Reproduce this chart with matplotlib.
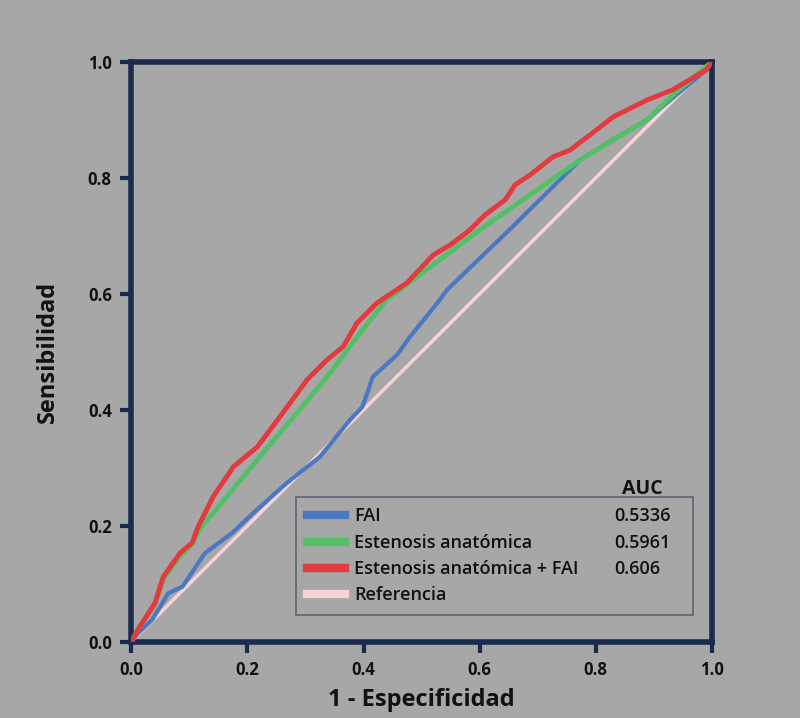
import matplotlib
matplotlib.use("Agg")
import matplotlib.pyplot as plt

plt.rcParams['font.family'] = ['Open Sans', 'DejaVu Sans']

# ROC curve data (1 - especificidad, sensibilidad)
fai_x = [0.0, 0.012, 0.036, 0.064, 0.088, 0.127, 0.174, 0.21, 0.268, 0.325, 0.377, 0.398, 0.416,
         0.458, 0.48, 0.527, 0.544, 0.657, 0.773, 0.83, 0.888, 0.922, 0.99, 1.0]
fai_y = [0.0, 0.015, 0.038, 0.084, 0.095, 0.153, 0.188, 0.222, 0.274, 0.319, 0.383, 0.405, 0.457,
         0.495, 0.526, 0.584, 0.607, 0.716, 0.831, 0.866, 0.90, 0.929, 0.986, 1.0]

est_x = [0.0, 0.012, 0.041, 0.055, 0.084, 0.105, 0.119, 0.17, 0.227, 0.286, 0.343, 0.389, 0.44,
         0.6, 0.773, 0.888, 0.933, 1.0]
est_y = [0.0, 0.022, 0.065, 0.108, 0.148, 0.168, 0.196, 0.257, 0.326, 0.395, 0.464, 0.526, 0.59,
         0.71, 0.831, 0.90, 0.943, 1.0]

comb_x = [0.0, 0.012, 0.041, 0.055, 0.084, 0.105, 0.115, 0.141, 0.176, 0.217, 0.256, 0.303,
          0.337, 0.365, 0.389, 0.423, 0.475, 0.52, 0.549, 0.583, 0.609, 0.644, 0.661, 0.687,
          0.726, 0.756, 0.79, 0.83, 0.888, 0.933, 0.99, 1.0]
comb_y = [0.0, 0.022, 0.067, 0.112, 0.153, 0.171, 0.198, 0.25, 0.302, 0.336, 0.388, 0.452,
          0.486, 0.509, 0.55, 0.584, 0.619, 0.667, 0.684, 0.71, 0.736, 0.762, 0.788, 0.805,
          0.836, 0.848, 0.874, 0.905, 0.934, 0.952, 0.986, 1.0]

ref_x = [0.0, 1.0]
ref_y = [0.0, 1.0]

labels = ["FAI", "Estenosis anatómica", "Estenosis anatómica + FAI", "Referencia"]
auc_values = ["0.5336", "0.5961", "0.606", ""]
colors = ["#4a78c2", "#52c064", "#e23a3e", "#f7d3d6"]
ticks = [0.0, 0.2, 0.4, 0.6, 0.8, 1.0]
tick_labels = ["0.0", "0.2", "0.4", "0.6", "0.8", "1.0"]

bg = "#a7a7a7"
navy = "#1b2b4d"

fig = plt.figure(figsize=(8, 7.18), dpi=100, facecolor=bg)
ax = fig.add_axes([0.164, 0.106, 0.726, 0.808], facecolor=bg)

h_ref, = ax.plot(ref_x, ref_y, color=colors[3], lw=2.5, zorder=2)
h_fai, = ax.plot(fai_x, fai_y, color=colors[0], lw=3, zorder=3)
h_est, = ax.plot(est_x, est_y, color=colors[1], lw=3.5, zorder=4)
h_comb, = ax.plot(comb_x, comb_y, color=colors[2], lw=3.5, zorder=5)

ax.set_xlim(0, 1)
ax.set_ylim(0, 1)
ax.set_xticks(ticks)
ax.set_xticklabels(tick_labels)
ax.set_yticks(ticks)
ax.set_yticklabels(tick_labels)
for s in ax.spines.values():
    s.set_color(navy)
    s.set_linewidth(4)
ax.tick_params(direction='out', length=8, width=3, color=navy, labelsize=12,
               labelcolor="#111111", pad=6)
for t in ax.get_xticklabels() + ax.get_yticklabels():
    t.set_fontweight('bold')

ax.set_xlabel("1 - Especificidad", fontsize=17, fontweight='bold', color="#111111", labelpad=6)
ax.set_ylabel("Sensibilidad", fontsize=17, fontweight='bold', color="#111111", labelpad=20)

leg = ax.legend([h_fai, h_est, h_comb, h_ref], labels,
                loc='lower left', bbox_to_anchor=(0.284, 0.046, 0.683, 0.197), mode='expand',
                fontsize=13, frameon=True, fancybox=False, handlelength=2.1,
                handleheight=0.6, labelspacing=0.46, borderpad=0.6, handletextpad=0.5,
                borderaxespad=0)
leg.get_frame().set_facecolor(bg)
leg.get_frame().set_edgecolor("#4a5468")
leg.get_frame().set_linewidth(1.2)
for line in leg.get_lines():
    line.set_linewidth(6)
for t in leg.get_texts():
    t.set_color("#111111")
    t.set_fontweight('semibold')
leg.set_zorder(10)

ax.text(0.88, 0.264, "AUC", transform=ax.transAxes, fontsize=14, fontweight='bold',
        color="#111111", ha='center', va='center', zorder=11)

fig.canvas.draw()
for t, val in zip(leg.get_texts(), auc_values):
    if not val:
        continue
    bb = t.get_window_extent()
    yc = (bb.y0 + bb.y1) / 2
    _, yax = ax.transAxes.inverted().transform((0, yc))
    ax.text(0.831, yax, val, transform=ax.transAxes, fontsize=13, fontweight='semibold',
            color="#111111", ha='left', va='center', zorder=11)

fig.savefig("out.png", dpi=100, facecolor=bg)
